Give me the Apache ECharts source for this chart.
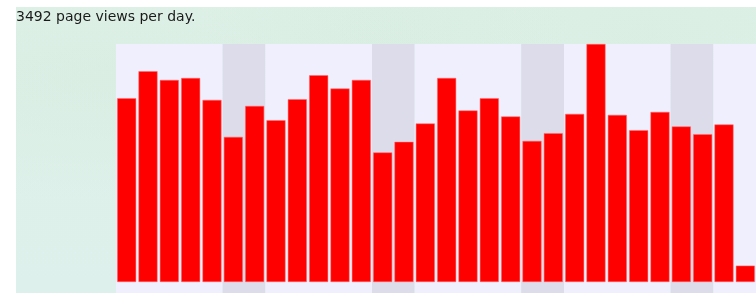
<!DOCTYPE html>
<html>
<head>
<meta charset="utf-8">
<script src="https://cdn.jsdelivr.net/npm/echarts@6/dist/echarts.min.js"></script>
<style>
    html, body { margin: 0; padding: 0; background: #ffffff; }
    #bg {
        position: absolute; left: 16px; top: 7px; width: 740px; height: 286px;
        background:
            radial-gradient(ellipse at 12% 25%, rgba(210,232,218,0.35), rgba(210,232,218,0) 40%),
            radial-gradient(ellipse at 50% 8%, rgba(210,234,220,0.35), rgba(210,234,220,0) 35%),
            radial-gradient(ellipse at 85% 10%, rgba(210,232,218,0.3), rgba(210,232,218,0) 35%),
            linear-gradient(180deg, #dff1e8 0%, #ddf0eb 100%);
    }
    #main { position: absolute; left: 0; top: 0; width: 756px; height: 293px; }
</style>
</head>
<body>
<div id="bg"></div>
<div id="main"></div>
<script>
    // daily page views, last day is only partly counted
    var days = [];
    for (let i = 1; i <= 30; i++) days.push('Day ' + i);
    var views = [3686, 4227, 4052, 4092, 3652, 2910, 3531, 3245, 3666, 4146,
        3880, 4052, 2598, 2810, 3179, 4092, 3439, 3686, 3319, 2830,
        2985, 3371, 4773, 3351, 3045, 3411, 3119, 2965, 3159, 327];
    // weekend days (index into days)
    var weekends = [5, 6, 12, 13, 19, 20, 26, 27];
    var avgText = '3492 page views per day.';

    var bandColors = days.map(function (d, i) {
        return weekends.indexOf(i) >= 0 ? '#dcdcea' : '#efeffd';
    });

    var chart = echarts.init(document.getElementById('main'));
    var maxV = Math.max.apply(null, views);
    chart.setOption({
        animation: false,
        backgroundColor: 'transparent',
        title: {
            text: avgText,
            left: 11,
            top: 5,
            textStyle: {
                fontFamily: 'DejaVu Sans',
                fontSize: 14,
                fontWeight: 'normal',
                color: '#1a1a1a'
            }
        },
        grid: {
            left: 116,
            right: 0,
            top: 44,
            bottom: 0,
            show: false
        },
        xAxis: {
            type: 'category',
            data: days,
            axisLine: { show: false },
            axisTick: { show: false },
            axisLabel: { show: false },
            splitLine: { show: false },
            splitArea: {
                show: true,
                interval: 0,
                areaStyle: { color: bandColors }
            }
        },
        yAxis: {
            type: 'value',
            min: -Math.round(maxV * 11 / 238),
            max: maxV,
            axisLine: { show: false },
            axisTick: { show: false },
            axisLabel: { show: false },
            splitLine: { show: false }
        },
        series: [{
            type: 'bar',
            data: views,
            barCategoryGap: '11%',
            itemStyle: {
                color: '#ff0000',
                borderColor: '#ff6f6f',
                borderWidth: 0.5
            }
        }]
    });
</script>
</body>
</html>
